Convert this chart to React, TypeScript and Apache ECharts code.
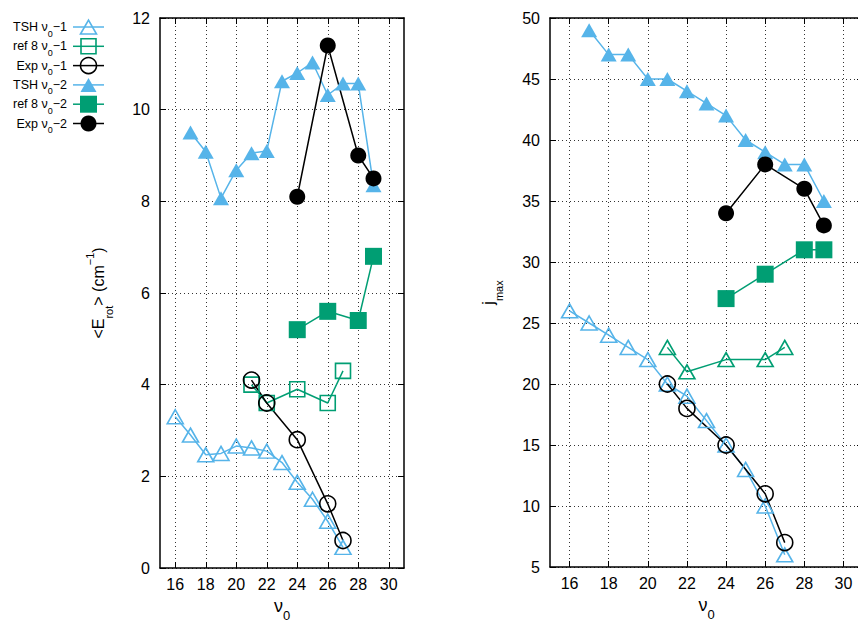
import React, { useEffect, useRef } from "react";
import * as echarts from "echarts";

// ---------- data ----------
const xTicks = [16, 18, 20, 22, 24, 26, 28, 30];

// left panel: <E_rot> (cm^-1)
const tshV1X = [16, 17, 18, 19, 20, 21, 22, 23, 24, 25, 26, 27];
const tshV1Erot = [3.3, 2.9, 2.47, 2.5, 2.66, 2.62, 2.55, 2.3, 1.87, 1.5, 1.02, 0.45];
const ref8V1X = [21, 22, 24, 26, 27];
const ref8V1Erot = [4.0, 3.6, 3.9, 3.6, 4.3];
const expV1X = [21, 22, 24, 26, 27];
const expV1Erot = [4.1, 3.6, 2.8, 1.4, 0.6];
const tshV2X = [17, 18, 19, 20, 21, 22, 23, 24, 25, 26, 27, 28, 29];
const tshV2Erot = [9.5, 9.08, 8.07, 8.68, 9.05, 9.1, 10.62, 10.8, 11.03, 10.32, 10.57, 10.57, 8.35];
const ref8V2X = [24, 26, 28, 29];
const ref8V2Erot = [5.2, 5.6, 5.4, 6.8];
const expV2X = [24, 26, 28, 29];
const expV2Erot = [8.1, 11.4, 9.0, 8.5];

// right panel: j_max
const tshV1Jmax = [26, 25, 24, 23, 22, 20, 19, 17, 15, 13, 10, 6];
const ref8V1Jmax = [23, 21, 22, 22, 23];
const expV1Jmax = [20, 18, 15, 11, 7];
const tshV2Jmax = [49, 47, 47, 45, 45, 44, 43, 42, 40, 39, 38, 38, 35];
const ref8V2Jmax = [27, 29, 31, 31];
const expV2Jmax = [34, 38, 36, 33];

const legendLabels = ["TSH", "ref 8", "Exp", "TSH", "ref 8", "Exp"];
const legendLevels = ["1", "1", "1", "2", "2", "2"];

const BLUE = "#56B4E9";
const GREEN = "#009E73";
const BLACK = "#000000";

const FONT = "Liberation Sans, Arial, Helvetica, sans-serif";

function pairs(xs: number[], ys: number[]) {
  return xs.map((x, i) => [x, ys[i]]);
}

export default function App() {
  const ref = useRef<HTMLDivElement>(null);

  useEffect(() => {
    if (!ref.current) return;
    const chart = echarts.init(ref.current, null, { renderer: "svg" });

    const gridLine = { show: true, lineStyle: { color: "#333", width: 1, type: [1, 3] as any } };

    const xBase = (gridIndex: number, bottom: boolean) => ({
      type: "value" as const,
      gridIndex,
      min: 15,
      max: 31,
      position: bottom ? "bottom" : "top",
      axisLine: { show: true, onZero: false, lineStyle: { color: BLACK, width: 1.5 } },
      axisTick: { show: true, inside: true, length: 6, customValues: xTicks, lineStyle: { color: BLACK, width: 1 } },
      axisLabel: bottom
        ? { show: true, customValues: xTicks, fontSize: 16, color: BLACK, fontFamily: FONT, margin: 8 }
        : { show: false },
      splitLine: bottom ? gridLine : { show: false },
      name: bottom ? "{a|ν}{s|0}" : "",
      nameLocation: "middle" as const,
      nameGap: 27,
      nameTextStyle: {
        rich: {
          a: { fontSize: 18, fontFamily: FONT, color: BLACK, lineHeight: 20, verticalAlign: "middle" },
          s: { fontSize: 13, fontFamily: FONT, color: BLACK, lineHeight: 20, verticalAlign: "bottom", padding: [0, 0, -6, 0] },
        },
      },
    });

    const yBase = (gridIndex: number, left: boolean, min: number, max: number, interval: number, name: string, rich: any) => ({
      type: "value" as const,
      gridIndex,
      min,
      max,
      interval,
      position: left ? "left" : "right",
      axisLine: { show: true, onZero: false, lineStyle: { color: BLACK, width: 1.5 } },
      axisTick: { show: true, inside: true, length: 6, lineStyle: { color: BLACK, width: 1 } },
      axisLabel: left ? { show: true, fontSize: 16, color: BLACK, fontFamily: FONT, margin: 10 } : { show: false },
      splitLine: left ? gridLine : { show: false },
      name: left ? name : "",
      nameLocation: "middle" as const,
      nameRotate: 90,
      nameGap: 50,
      nameTextStyle: { rich },
    });

    const leftName = "{n|<E}{b|rot}{n|> (cm}{t|−1}{n|)}";
    const leftRich = {
      n: { fontSize: 16, fontFamily: FONT, color: BLACK, lineHeight: 24, verticalAlign: "middle" },
      b: { fontSize: 11, fontFamily: FONT, color: BLACK, lineHeight: 24, verticalAlign: "bottom", padding: [0, 0, -4, 0] },
      t: { fontSize: 11, fontFamily: FONT, color: BLACK, lineHeight: 24, verticalAlign: "top", padding: [-2, 0, 0, 0] },
    };
    const rightName = "{n|j}{b|max}";
    const rightRich = leftRich;

    const mk = (
      name: string,
      xi: number,
      yi: number,
      data: number[][],
      color: string,
      symbol: string,
      size: number | number[],
      filled: boolean,
      lw = 1.5
    ) => ({
      type: "line" as const,
      name,
      xAxisIndex: xi,
      yAxisIndex: yi,
      data,
      symbol,
      symbolSize: size,
      showSymbol: true,
      lineStyle: { color, width: lw },
      itemStyle: filled
        ? { color, borderColor: color, borderWidth: 0 }
        : { color: "rgba(0,0,0,0)", borderColor: color, borderWidth: 1.6 },
      emphasis: { disabled: true },
      z: 3,
    });

    const series = [
      // left panel
      mk("TSH v0-1", 0, 0, pairs(tshV1X, tshV1Erot), BLUE, "triangle", [16, 14], false),
      mk("ref8 v0-1", 0, 0, pairs(ref8V1X, ref8V1Erot), GREEN, "rect", 15, false),
      mk("Exp v0-1", 0, 0, pairs(expV1X, expV1Erot), BLACK, "circle", 16, false),
      mk("TSH v0-2", 0, 0, pairs(tshV2X, tshV2Erot), BLUE, "triangle", [16, 14], true),
      mk("ref8 v0-2", 0, 0, pairs(ref8V2X, ref8V2Erot), GREEN, "rect", 17, true),
      mk("Exp v0-2", 0, 0, pairs(expV2X, expV2Erot), BLACK, "circle", 16, true),
      // right panel
      mk("TSH v0-1 j", 2, 2, pairs(tshV1X, tshV1Jmax), BLUE, "triangle", [16, 14], false),
      mk("ref8 v0-1 j", 2, 2, pairs(ref8V1X, ref8V1Jmax), GREEN, "triangle", [16, 14], false),
      mk("Exp v0-1 j", 2, 2, pairs(expV1X, expV1Jmax), BLACK, "circle", 16, false),
      mk("TSH v0-2 j", 2, 2, pairs(tshV2X, tshV2Jmax), BLUE, "triangle", [16, 14], true),
      mk("ref8 v0-2 j", 2, 2, pairs(ref8V2X, ref8V2Jmax), GREEN, "rect", 17, true),
      mk("Exp v0-2 j", 2, 2, pairs(expV2X, expV2Jmax), BLACK, "circle", 16, true),
    ];

    // legend (drawn as graphic elements)
    const legendEls: any[] = [];
    const colors = [BLUE, GREEN, BLACK, BLUE, GREEN, BLACK];
    legendLabels.forEach((lab, i) => {
      const y = 27 + 19.3 * i;
      const c = colors[i];
      const filled = i >= 3;
      legendEls.push({
        type: "text",
        x: 67,
        y,
        style: {
          text: `{n|${lab} ν}{s|0}{n|−${legendLevels[i]}}`,
          align: "right",
          verticalAlign: "middle",
          rich: {
            n: { fontSize: 12.5, fontFamily: FONT, fill: BLACK, lineHeight: 16, verticalAlign: "middle" },
            s: { fontSize: 9, fontFamily: FONT, fill: BLACK, lineHeight: 16, verticalAlign: "bottom", padding: [0, 0, -3, 0] },
          },
        },
      });
      legendEls.push({
        type: "line",
        shape: { x1: 73, y1: y, x2: 104, y2: y },
        style: { stroke: c, lineWidth: 1.5 },
      });
      const cx = 88.5;
      const fill = filled ? c : "none";
      const stroke = c;
      const lineWidth = filled ? 0 : 1.6;
      if (i % 3 === 0) {
        legendEls.push({
          type: "polygon",
          shape: { points: [[cx - 8, y + 7], [cx, y - 7], [cx + 8, y + 7]] },
          style: { fill, stroke, lineWidth },
        });
      } else if (i % 3 === 1) {
        const s = filled ? 17 : 15;
        legendEls.push({
          type: "rect",
          shape: { x: cx - s / 2, y: y - s / 2, width: s, height: s },
          style: { fill, stroke, lineWidth },
        });
      } else {
        legendEls.push({
          type: "circle",
          shape: { cx, cy: y, r: 8 },
          style: { fill, stroke, lineWidth },
        });
      }
    });

    chart.setOption({
      animation: false,
      backgroundColor: "#ffffff",
      textStyle: { fontFamily: FONT },
      grid: [
        { left: 160, top: 18, width: 244, height: 550, containLabel: false, outerBoundsMode: "none" },
        { left: 550, top: 18, width: 313, height: 549, containLabel: false, outerBoundsMode: "none" },
      ],
      xAxis: [xBase(0, true), xBase(0, false), xBase(1, true), xBase(1, false)],
      yAxis: [
        yBase(0, true, 0, 12, 2, leftName, leftRich),
        yBase(0, false, 0, 12, 2, "", leftRich),
        yBase(1, true, 5, 50, 5, rightName, rightRich),
        yBase(1, false, 5, 50, 5, "", rightRich),
      ],
      series,
      graphic: legendEls,
    });

    return () => chart.dispose();
  }, []);

  return (
    <div
      ref={ref}
      style={{ position: "fixed", left: 0, top: 0, width: 858, height: 623, background: "#fff" }}
    />
  );
}
